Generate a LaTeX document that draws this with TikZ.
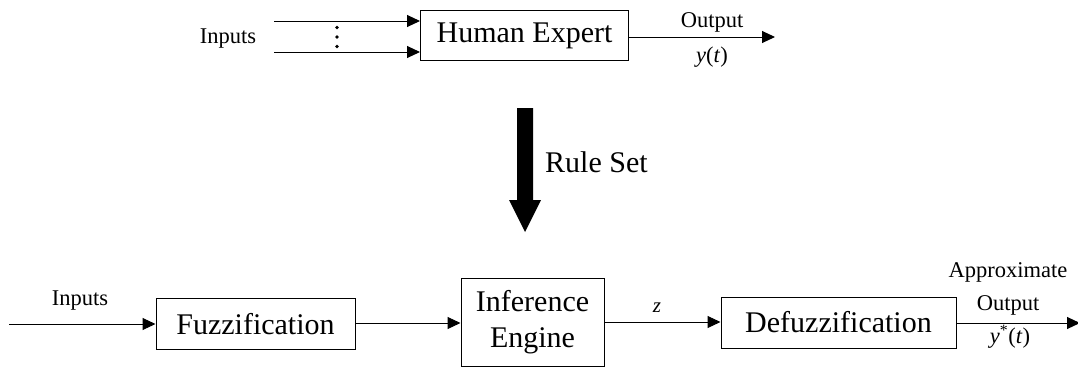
\documentclass[tikz,border=0pt]{standalone}
\usepackage{fontspec}
\setmainfont{Liberation Serif}
\usetikzlibrary{arrows.meta, positioning}

\tikzset{
  block/.style={draw, line width=1pt, inner sep=0pt, font=\fontsize{30}{36}\selectfont},
  wire/.style={line width=1pt, -{Triangle[length=13pt, width=12pt]}},
  lbl/.style={inner sep=0pt, font=\fontsize{22.5}{26}\selectfont}
}

\begin{document}
\begin{tikzpicture}[x=1pt, y=-1pt]
				\useasboundingbox (0,0) rectangle (1078,367);

				% Draw the expert box
				\node[block, minimum width=208pt, minimum height=50pt] (expert) at (524.5,35.5) {Human Expert};

				% Draw the wires entering the expert
				\coordinate (inA) at (274,21);
				\coordinate (inB) at (274,52);
				\draw[wire] (inA) -- (expert.west |- inA);
				\draw[wire] (inB) -- (expert.west |- inB);
				\node[lbl] (inputsTop) at (228,39) {Inputs};

				% the dots between the inputs
				\fill (337,27.5) circle (1.8pt);
				\fill (337,37) circle (1.8pt);
				\fill (337,46.5) circle (1.8pt);

				% Draw the expert output
				\coordinate (outTop) at (775,37);
				\draw[wire] (expert.east |- outTop) -- (outTop);
				\node[lbl] (outTopA) at (712,22) {Output};
				\node[lbl] (outTopB) at (712,57) {\textit{y}(\textit{t})};

				% Draw the big arrow for the rules
				\fill (517,108) -- (533,108) -- (533,200) -- (541,200) -- (525,232) -- (509,200) -- (517,200) -- cycle;
				\node[lbl, anchor=west, font=\fontsize{30}{36}\selectfont] (rules) at (545,162) {Rule Set};

				% Draw the fuzzy system blocks
				\node[block, minimum width=199pt, minimum height=51pt] (fuzz) at (255.5,324) {Fuzzification};
				\node[block, minimum width=143pt, minimum height=88pt, align=center] (engine) at (532.5,322) {Inference\\Engine};
				\node[block, minimum width=235pt, minimum height=51pt] (defuzz) at (838.5,322.5) {Defuzzification};

				% Draw the wires between the blocks
				\coordinate (inBot) at (9,324);
				\draw[wire] (inBot) -- (fuzz.west |- inBot);
				\node[lbl] (inputsBot) at (80,301) {Inputs};
				\draw[wire] (fuzz.east |- 0,323) -- (engine.west |- 0,323);
				\draw[wire] (engine.east |- 0,322) -- (defuzz.west |- 0,322);
				\node[lbl, font=\fontsize{21}{24}\selectfont] (zlbl) at (657,308) {\textit{z}};

				% Draw the approximate output
				\coordinate (outBot) at (1080,323);
				\draw[wire] (defuzz.east |- outBot) -- (outBot);
				\node[lbl] (outBotA) at (1008,272) {Approximate};
				\node[lbl] (outBotB) at (1008,305) {Output};
				\node[lbl] (outBotC) at (1010,337) {\textit{y}\textsuperscript{*}(\textit{t})};
			\end{tikzpicture}
\end{document}
